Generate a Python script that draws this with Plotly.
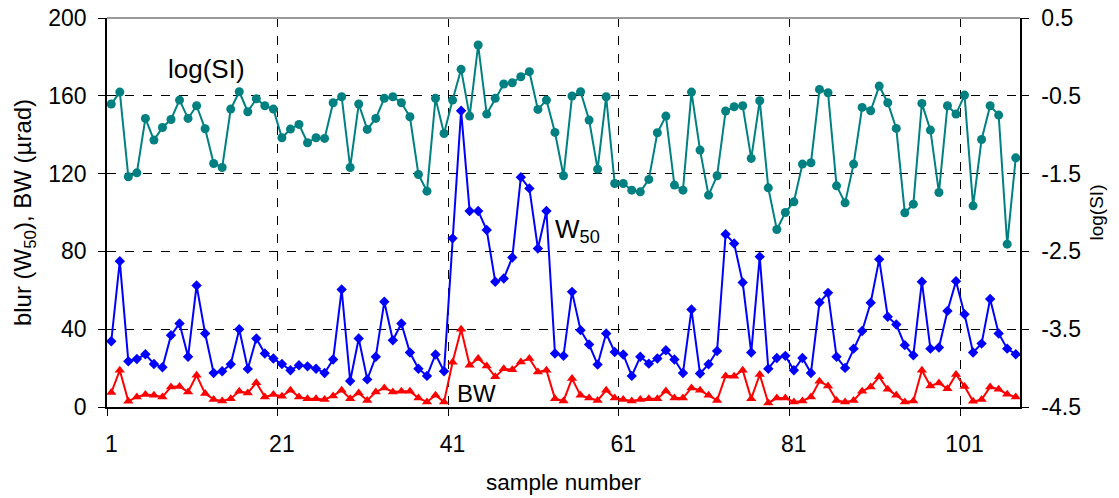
import plotly.graph_objects as go

samples = list(range(1, 108))

log_si = [-0.606, -0.452, -1.541, -1.49, -0.791, -1.069, -0.907, -0.804, -0.555, -0.791,
          -0.628, -0.924, -1.37, -1.421, -0.671, -0.448, -0.705, -0.538, -0.628, -0.671,
          -1.039, -0.928, -0.868, -1.104, -1.039, -1.048, -0.589, -0.512, -1.421, -0.606,
          -0.932, -0.791, -0.533, -0.512, -0.589, -0.769, -1.511, -1.726, -0.533, -0.984,
          -0.555, -0.160, -0.761, 0.153, -0.735, -0.533, -0.349, -0.332, -0.255, -0.190,
          -0.675, -0.555, -0.971, -1.528, -0.503, -0.448, -0.812, -1.443, -0.512, -1.627,
          -1.627, -1.713, -1.734, -1.575, -0.975, -0.761, -1.648, -1.713, -0.452, -1.198,
          -1.777, -1.528, -0.696, -0.641, -0.628, -1.305, -0.563, -1.683, -2.219, -2.0,
          -1.863, -1.378, -1.361, -0.418, -0.461, -1.657, -1.876, -1.378, -0.649, -0.692,
          -0.375, -0.589, -0.919, -2.004, -1.893, -0.598, -0.941, -1.743, -0.628, -0.735,
          -0.491, -1.914, -1.061, -0.628, -0.748, -2.407, -1.297]

w50 = [33.8, 75.0, 23.5, 24.7, 27.1, 22.1, 20.4, 36.9, 42.9, 25.8,
       62.5, 37.8, 17.5, 18.4, 22.0, 40.0, 19.6, 35.2, 27.5, 24.9,
       22.1, 18.9, 21.5, 20.9, 19.7, 17.5, 24.4, 60.4, 13.4, 35.2,
       14.2, 25.8, 54.1, 34.3, 42.9, 28.0, 19.7, 16.0, 27.0, 18.4,
       86.7, 152.3, 100.8, 100.8, 91.0, 64.4, 66.1, 76.9, 118.1, 112.4,
       81.5, 100.8, 27.5, 26.3, 59.2, 39.5, 32.1, 21.8, 37.8, 28.3,
       27.0, 16.0, 25.8, 22.3, 24.9, 29.2, 24.4, 17.5, 50.1, 17.2,
       22.0, 28.8, 88.8, 84.1, 64.0, 28.0, 77.3, 19.7, 25.2, 26.3,
       18.9, 25.2, 17.5, 53.7, 58.7, 25.8, 20.1, 30.0, 39.1, 53.6,
       75.9, 46.4, 42.4, 31.8, 26.6, 64.4, 30.0, 30.6, 49.4, 64.7,
       47.7, 28.0, 32.6, 55.5, 37.8, 30.0, 27.1]

bw = [7.4, 18.9, 2.9, 5.2, 6.4, 6.0, 5.2, 10.3, 10.6, 7.7,
      16.3, 6.9, 3.9, 3.1, 4.3, 8.1, 7.2, 12.5, 5.2, 6.4,
      5.5, 8.6, 5.2, 4.3, 4.3, 3.9, 5.7, 8.6, 4.3, 7.2,
      3.4, 7.7, 9.8, 7.7, 8.1, 8.1, 4.6, 2.6, 6.0, 2.6,
      23.0, 40.0, 21.5, 24.9, 21.1, 15.5, 19.7, 19.2, 23.2, 24.9,
      18.0, 18.9, 4.3, 3.1, 14.6, 6.0, 4.6, 3.4, 8.6, 4.6,
      3.9, 3.1, 3.9, 4.3, 4.3, 8.2, 4.6, 4.6, 9.8, 8.6,
      6.0, 3.4, 16.0, 15.8, 18.9, 4.3, 16.7, 2.1, 4.6, 4.6,
      2.6, 3.1, 5.2, 13.2, 10.8, 3.4, 2.6, 3.4, 8.1, 10.3,
      15.5, 9.1, 6.0, 2.6, 3.1, 18.9, 10.8, 12.4, 9.4, 16.7,
      10.6, 2.9, 3.8, 10.3, 9.1, 6.5, 5.2]

x_tick_labels = [1, 21, 41, 61, 81, 101]
left_ticks = [0, 40, 80, 120, 160, 200]
right_ticks = [-4.5, -3.5, -2.5, -1.5, -0.5, 0.5]

FONT = "Liberation Sans, Arial, sans-serif"
TICK_FS = 23

fig = go.Figure()
fig.add_trace(go.Scatter(x=samples, y=w50, mode="lines+markers", name="W50",
                         line=dict(color="#0000FF", width=2),
                         marker=dict(symbol="diamond", size=8, color="#0000FF")))
fig.add_trace(go.Scatter(x=samples, y=bw, mode="lines+markers", name="BW",
                         line=dict(color="#FF0000", width=2),
                         marker=dict(symbol="triangle-up", size=9, color="#FF0000")))
fig.add_trace(go.Scatter(x=samples, y=log_si, mode="lines+markers", name="log(SI)",
                         yaxis="y2",
                         line=dict(color="#008080", width=2),
                         marker=dict(symbol="circle", size=9, color="#008080")))

boundaries = [t - 0.5 for t in x_tick_labels]

fig.update_layout(
    width=1119, height=498,
    margin=dict(l=107, r=99, t=18, b=91),
    paper_bgcolor="white", plot_bgcolor="white",
    showlegend=False,
    font=dict(family=FONT, size=TICK_FS, color="black"),
    xaxis=dict(
        range=[0.5, len(samples) + 0.5], automargin=False,
        tickmode="array", tickvals=x_tick_labels, ticktext=[str(t) for t in x_tick_labels],
        ticks="", showgrid=False, zeroline=False,
        showline=True, linecolor="black", linewidth=1.5,
        tickfont=dict(size=TICK_FS),
        title=dict(text="sample number", font=dict(size=22.5), standoff=18),
        minor=dict(tickmode="array", tickvals=boundaries, ticks="outside", ticklen=7,
                   tickcolor="black", tickwidth=1, showgrid=True, gridcolor="black",
                   griddash="dash", gridwidth=1),
        ticklabelstandoff=16,
    ),
    yaxis=dict(
        range=[0, 200], tickmode="array", tickvals=left_ticks, automargin=False,
        ticks="outside", ticklen=7, tickcolor="black",
        showgrid=True, gridcolor="black", griddash="dash", gridwidth=1,
        zeroline=False, showline=True, linecolor="black", linewidth=1.5,
        tickfont=dict(size=TICK_FS),
        title=dict(text="blur (W<sub>50</sub>), BW (µrad)", font=dict(size=24), standoff=10),
        ticklabelstandoff=7,
    ),
    yaxis2=dict(
        range=[-4.5, 0.5], overlaying="y", side="right", automargin=False,
        tickmode="array", tickvals=right_ticks, ticktext=[f"{v:.1f}" for v in right_ticks],
        ticks="outside", ticklen=7, tickcolor="black",
        showgrid=False, zeroline=False, showline=True, linecolor="black", linewidth=1.5,
        tickfont=dict(size=TICK_FS),
        title=dict(text="log(SI)", font=dict(size=19), standoff=10),
        ticklabelstandoff=8,
    ),
)

fig.add_shape(type="line", xref="paper", yref="paper", x0=0, x1=1, y0=1, y1=1,
              line=dict(color="#9a9a9a", width=2))

fig.add_annotation(x=12.2, y=174, xref="x", yref="y", text="log(SI)", showarrow=False,
                   font=dict(size=26))
fig.add_annotation(x=52.8, y=90.5, xref="x", yref="y", text="W<sub>50</sub>", showarrow=False,
                   xanchor="left", font=dict(size=26))
fig.add_annotation(x=41.3, y=7, xref="x", yref="y", text="BW", showarrow=False,
                   xanchor="left", font=dict(size=24))

fig.write_html("out.html", config={"displayModeBar": False},
               post_script="document.body.style.margin='0px';")
